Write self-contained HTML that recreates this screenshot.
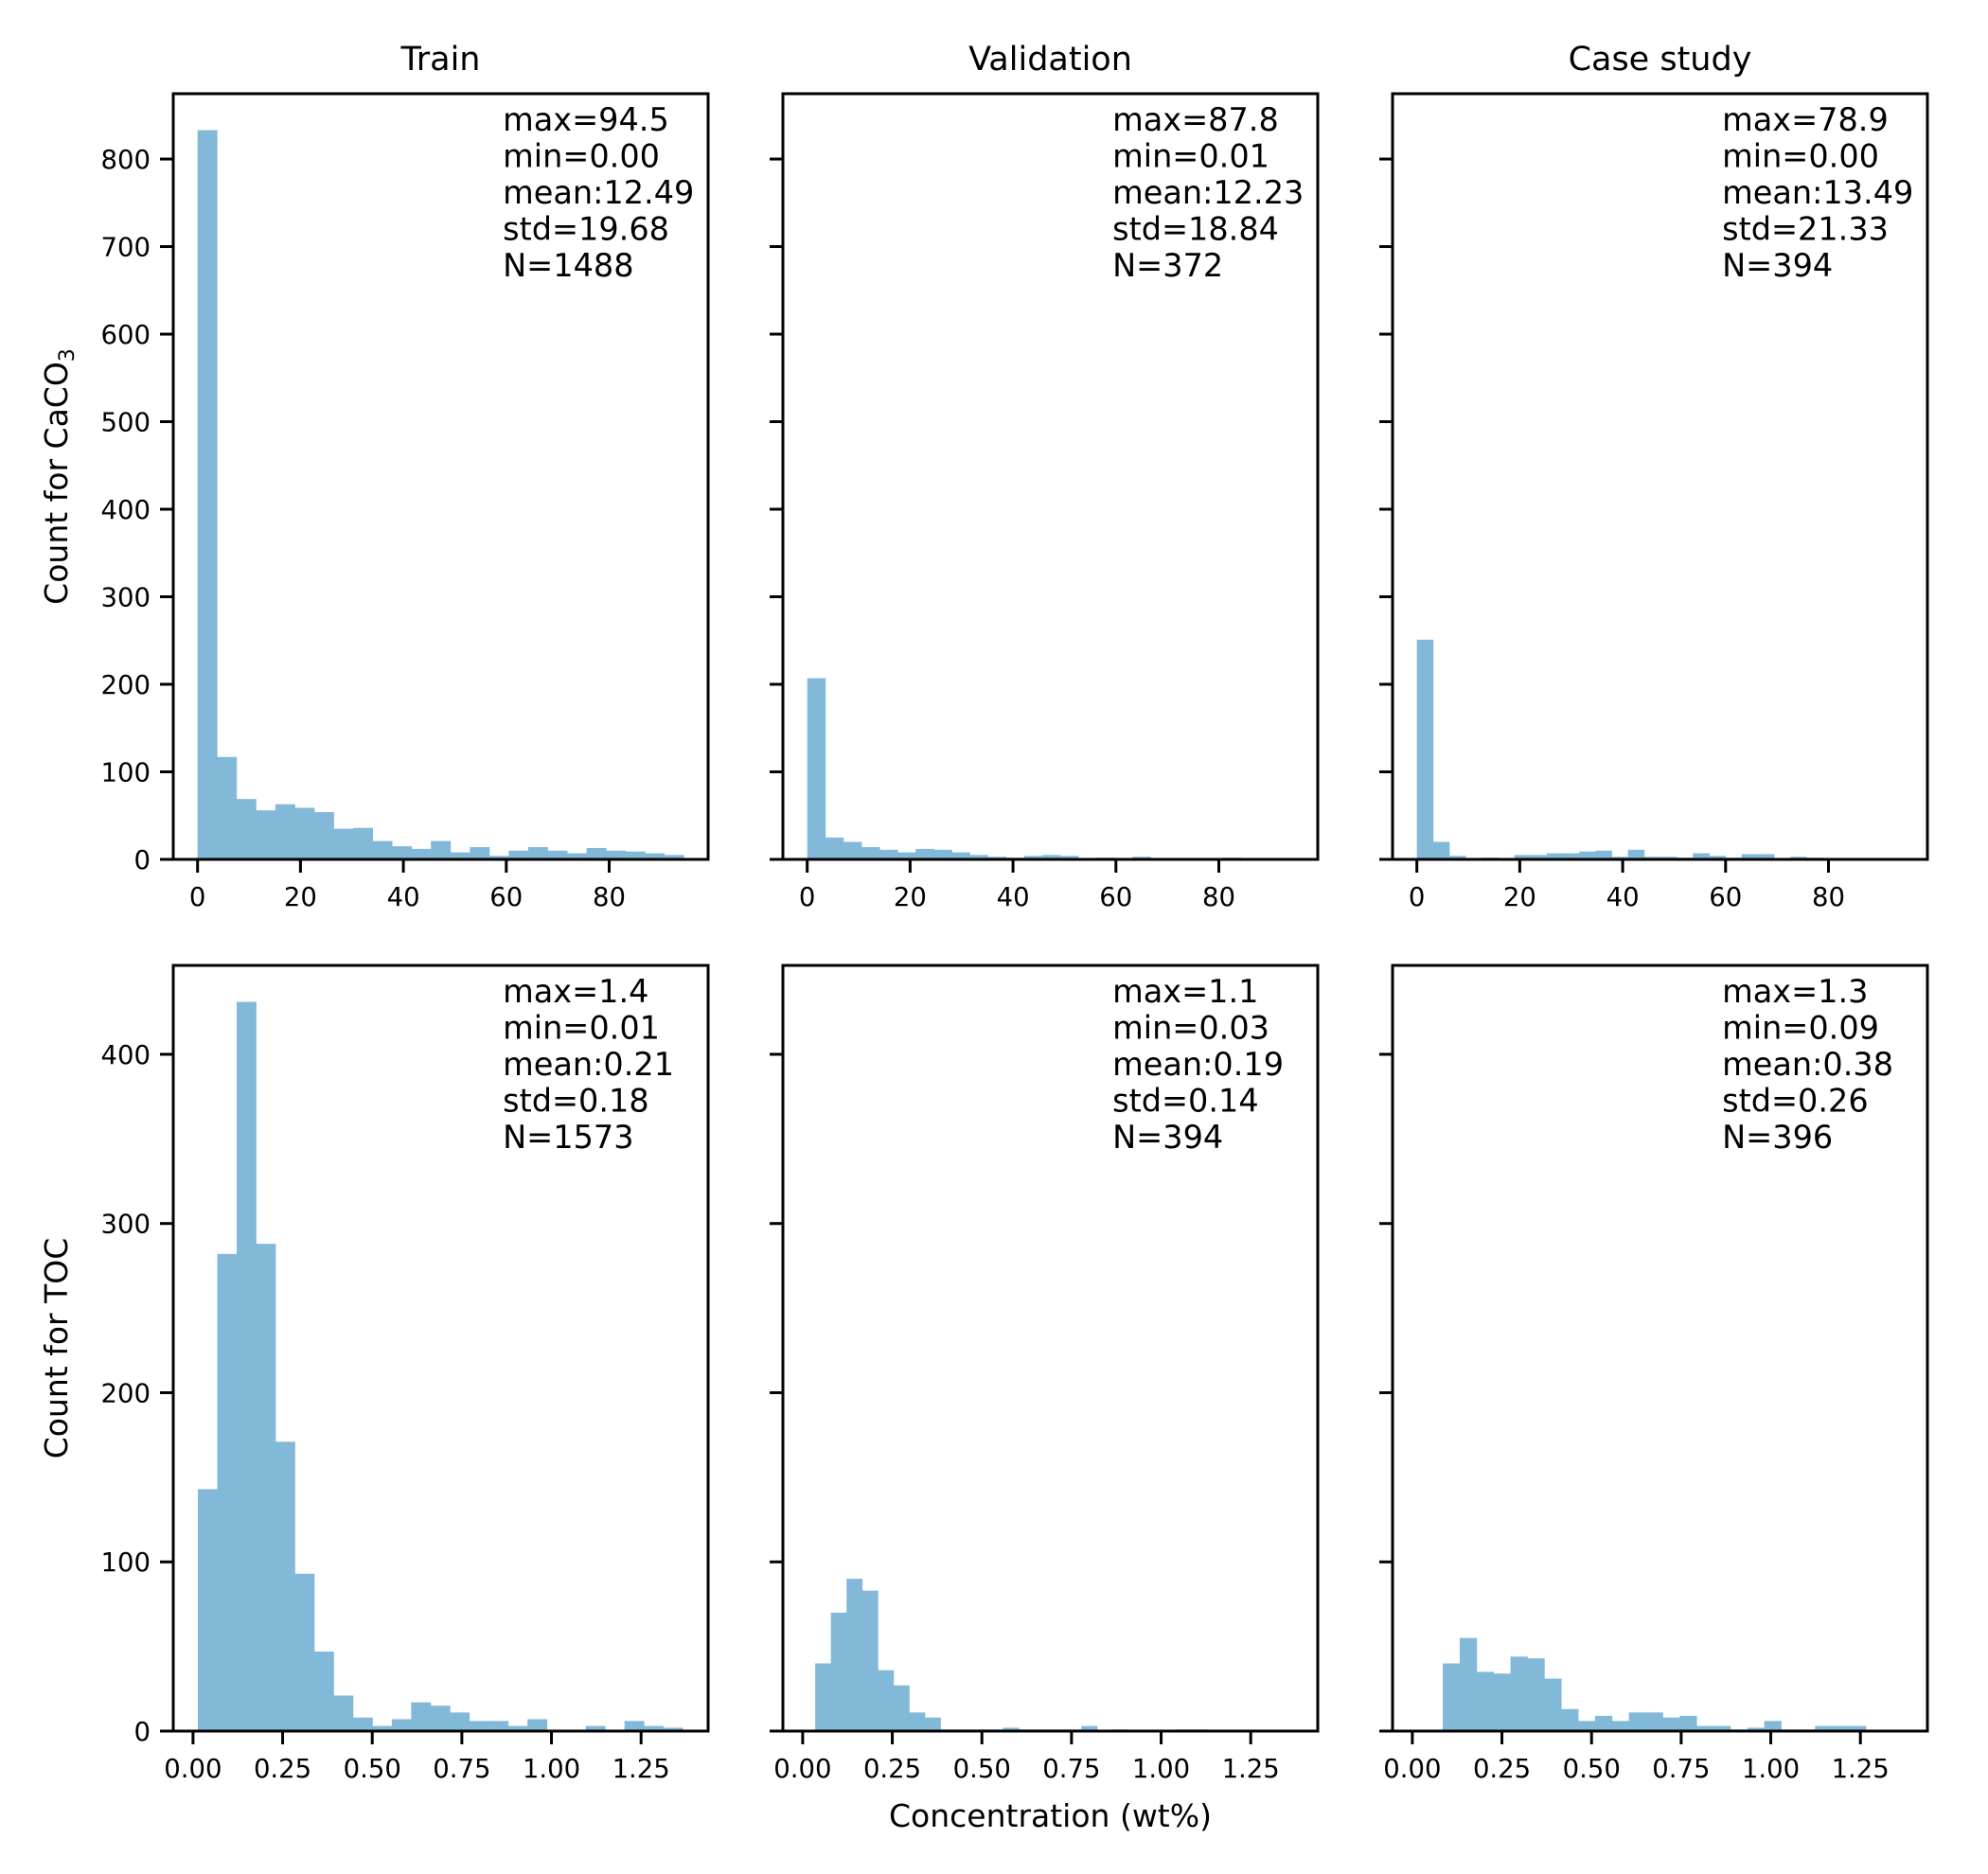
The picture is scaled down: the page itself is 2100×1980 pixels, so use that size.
<!DOCTYPE html>
<html><head><meta charset="utf-8"><title>Concentration histograms</title>
<style>
html,body{margin:0;padding:0;background:#fff;}
svg{display:block;}
text{font-family:"DejaVu Sans","Liberation Sans",sans-serif;fill:#000;}
</style></head>
<body>
<svg id="fig" width="2100" height="1980" viewBox="0 0 2100 1980" xmlns="http://www.w3.org/2000/svg"></svg>
<script>
// ---- data ----
const panelTitles = ["Train", "Validation", "Case study"];
const caco3Train = [833,117,69,56,63,59,54,35,36,21,15,12,21,8,14,4,10,14,10,7,13,10,9,7,5];
const caco3Val   = [207,25,20,14,11,8,12,11,8,5,3,2,4,5,4,1,2,1,3,1,0,1,0,2,0];
const caco3Case  = [251,20,4,1,2,1,5,5,7,7,9,10,3,11,3,3,2,7,4,2,6,6,1,3,2];
const tocTrain   = [143,282,431,288,171,93,47,21,8,3,7,17,15,11,6,6,3,7,0,0,3,0,6,3,2];
const tocVal     = [40,70,90,83,36,27,11,8,1,1,1,1,2,1,1,1,1,3,0,1,0,0,0,1,1];
const tocCase    = [40,55,35,34,44,43,31,13,6,9,6,11,11,8,9,3,3,1,2,6,1,1,3,3,3];
const caco3BinMin = [0, 0.01, 0];
const caco3BinMax = [94.5, 87.8, 78.9];
const tocBinMin = [0.0135, 0.035, 0.085];
const tocBinMax = [1.366, 1.127, 1.265];
const caco3Stats = [
  ["max=94.5","min=0.00","mean:12.49","std=19.68","N=1488"],
  ["max=87.8","min=0.01","mean:12.23","std=18.84","N=372"],
  ["max=78.9","min=0.00","mean:13.49","std=21.33","N=394"]];
const tocStats = [
  ["max=1.4","min=0.01","mean:0.21","std=0.18","N=1573"],
  ["max=1.1","min=0.03","mean:0.19","std=0.14","N=394"],
  ["max=1.3","min=0.09","mean:0.38","std=0.26","N=396"]];
const caco3XTicks = [0,20,40,60,80];
const caco3XTickLabels = ["0","20","40","60","80"];
const tocXTicks = [0,0.25,0.5,0.75,1.0,1.25];
const tocXTickLabels = ["0.00","0.25","0.50","0.75","1.00","1.25"];
const caco3YTicks = [0,100,200,300,400,500,600,700,800];
const tocYTicks = [0,100,200,300,400];

// ---- layout ----
const NS = "http://www.w3.org/2000/svg";
const svg = document.getElementById("fig");
const colLeft = [183, 827, 1471];
const axW = 565;
const rowTop = [99, 1020];
const axH = 809;
const BAR = "#82b8d8";

function mk(tag, attrs, parent) {
  const e = document.createElementNS(NS, tag);
  for (const k in attrs) e.setAttribute(k, attrs[k]);
  (parent || svg).appendChild(e);
  return e;
}

const rows = [
  {data:[caco3Train, caco3Val, caco3Case], bmin:caco3BinMin, bmax:caco3BinMax, stats:caco3Stats,
   xlim:[-4.725, 99.225], xt:caco3XTicks, xtl:caco3XTickLabels, yt:caco3YTicks, key:"caco3"},
  {data:[tocTrain, tocVal, tocCase], bmin:tocBinMin, bmax:tocBinMax, stats:tocStats,
   xlim:[-0.0552, 1.437], xt:tocXTicks, xtl:tocXTickLabels, yt:tocYTicks, key:"toc"}
];

rows.forEach((row, r) => {
  let ymax = 0;
  row.data.forEach(d => d.forEach(v => { if (v > ymax) ymax = v; }));
  const ylim = [0, ymax * 1.05];
  const top = rowTop[r];
  const yS = v => top + axH - (v - ylim[0]) / (ylim[1] - ylim[0]) * axH;
  for (let c = 0; c < 3; c++) {
    const left = colLeft[c];
    const xS = v => left + (v - row.xlim[0]) / (row.xlim[1] - row.xlim[0]) * axW;
    const g = mk("g", {});
    
    
    const counts = row.data[c];
    const n = counts.length;
    const bw = (row.bmax[c] - row.bmin[c]) / n;
    counts.forEach((v, i) => {
      if (v <= 0) return;
      const x0 = xS(row.bmin[c] + i * bw), x1 = xS(row.bmin[c] + (i + 1) * bw);
      const rect = mk("rect", {x:x0, y:yS(v), width:x1 - x0 + 0.4, height:yS(0) - yS(v), fill:BAR}, g);
      
      
    });
    const fr = mk("rect", {x:left, y:top, width:axW, height:axH, fill:"none", stroke:"#000", "stroke-width":3}, g);
    
    
    row.xt.forEach((t, i) => {
      const x = xS(t);
      const tk = mk("line", {x1:x, x2:x, y1:top + axH, y2:top + axH + 14, stroke:"#000", "stroke-width":3}, g);
      
      
      const tl = mk("text", {x:x, y:top + axH + 49, "font-size":27.5, "text-anchor":"middle"}, g);
      tl.textContent = row.xtl[i];
      
      
    });
    row.yt.forEach(t => {
      const y = yS(t);
      const tk = mk("line", {x1:left - 14, x2:left, y1:y, y2:y, stroke:"#000", "stroke-width":3}, g);
      
      
      if (c === 0) {
        const tl = mk("text", {x:left - 24, y:y + 10, "font-size":27.5, "text-anchor":"end"}, g);
        tl.textContent = String(t);
        
        
      }
    });
    const sx = left + 0.625 * axW - 5;
    const st = mk("text", {x:sx, y:top + 39, "font-size":33.5}, g);
    
    
    row.stats[c].forEach((s, i) => {
      const ts = mk("tspan", {x:sx, dy:i === 0 ? 0 : 38.5}, st);
      ts.textContent = s;
    });
    if (r === 0) {
      const tt = mk("text", {x:left + axW / 2, y:74, "font-size":35, "text-anchor":"middle"}, g);
      tt.textContent = panelTitles[c];
      
      
    }
  }
});

const yl1 = mk("text", {x:0, y:0, "font-size":33, "text-anchor":"middle", transform:"translate(71," + (rowTop[0] + axH / 2) + ") rotate(-90)"});


mk("tspan", {}, yl1).textContent = "Count for CaCO";
const sub = mk("tspan", {"font-size":22, dy:7}, yl1);
sub.textContent = "3";

const yl2 = mk("text", {x:0, y:0, "font-size":33, "text-anchor":"middle", transform:"translate(71," + (rowTop[1] + axH / 2) + ") rotate(-90)"});
yl2.textContent = "Count for TOC";



const xl = mk("text", {x:colLeft[1] + axW / 2, y:1930, "font-size":33, "text-anchor":"middle"});
xl.textContent = "Concentration (wt%)";


</script>
</body></html>
